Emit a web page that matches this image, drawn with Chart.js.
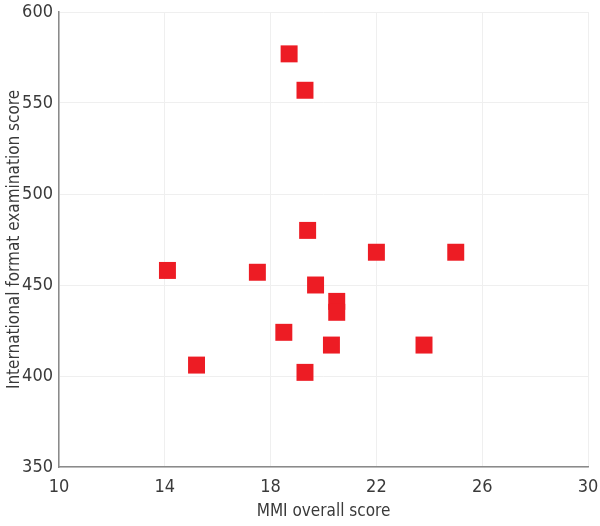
<!DOCTYPE html>
<html>
<head>
<meta charset="utf-8">
<script src="https://cdn.jsdelivr.net/npm/chart.js@4/dist/chart.umd.min.js"></script>
<style>
  html, body { margin: 0; padding: 0; background: #fff; }
  #wrap { width: 600px; height: 526px; position: relative; }
</style>
</head>
<body>
<div id="wrap"><canvas id="scatterChart"></canvas></div>
<script>
// MMI overall score vs international format examination score
const mmiScores = [18.7, 19.3, 19.4, 14.1, 17.5, 22.0, 25.0, 19.7, 20.5, 20.5, 18.5, 20.3, 23.8, 15.2, 19.3];
const examScores = [577, 557, 480, 458, 457, 468, 468, 450, 441, 435, 424, 417, 417, 406, 402];
const xTicks = [10, 14, 18, 22, 26, 30];
const yTicks = [350, 400, 450, 500, 550, 600];

const fontFamily = '"Liberation Sans Narrow", "DejaVu Sans Condensed", "Roboto", sans-serif';
const textColor = '#3a3a3a';

// build the point list from the two arrays
const points = mmiScores.map((x, i) => ({ x: x, y: examScores[i] }));

const ctx = document.getElementById('scatterChart').getContext('2d');
const chart = new Chart(ctx, {
    type: 'scatter',
    data: {
        datasets: [{
            data: points,
            pointStyle: 'rect',
            pointRadius: 12,
            pointHoverRadius: 12,
            backgroundColor: '#ed1c24',
            borderWidth: 0
        }]
    },
    options: {
        responsive: true,
        maintainAspectRatio: false,
        animation: false,
        layout: {
            padding: { top: 11, right: 11, left: 0, bottom: 0 }
        },
        plugins: {
            legend: { display: false },
            tooltip: { enabled: false }
        },
        scales: {
            x: {
                type: 'linear',
                min: 10,
                max: 30,
                afterBuildTicks: (scale) => {
                    scale.ticks = xTicks.map(v => ({ value: v }));
                },
                afterFit: (scale) => {
                    scale.height = 59;
                    scale.paddingLeft = 0;
                    scale.paddingRight = 0;
                },
                grid: { color: '#efefef', drawTicks: false },
                border: { color: '#8a8a8a', width: 1.5 },
                ticks: {
                    padding: 10,
                    color: textColor,
                    font: { family: fontFamily, size: 18 }
                },
                title: {
                    display: true,
                    text: 'MMI overall score',
                    color: textColor,
                    font: { family: fontFamily, size: 17 },
                    padding: { top: 0, bottom: 4 }
                }
            },
            y: {
                type: 'linear',
                min: 350,
                max: 600,
                afterBuildTicks: (scale) => {
                    scale.ticks = yTicks.map(v => ({ value: v }));
                },
                afterFit: (scale) => {
                    scale.width = 59;
                    scale.paddingTop = 0;
                    scale.paddingBottom = 0;
                },
                grid: { color: '#efefef', drawTicks: false },
                border: { color: '#8a8a8a', width: 1.5 },
                ticks: {
                    padding: 6,
                    color: textColor,
                    font: { family: fontFamily, size: 18 }
                },
                title: {
                    display: true,
                    text: 'International format examination score',
                    color: textColor,
                    font: { family: fontFamily, size: 17 },
                    padding: { top: 4, bottom: 0 }
                }
            }
        }
    }
});
</script>
</body>
</html>
